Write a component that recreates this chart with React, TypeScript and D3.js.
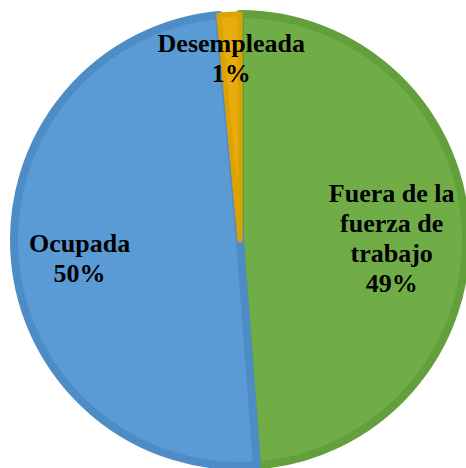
import * as d3 from "d3";

const categories = ["Fuera de la fuerza de trabajo", "Ocupada", "Desempleada"];
const values = [48.8, 49.7, 1.5];
const labelLines = [["Fuera de la", "fuerza de", "trabajo", "49%"], ["Ocupada", "50%"], ["Desempleada", "1%"]];
const fills = ["#70AD47", "#5B9BD5", "#E7AD0E"];
const borders = ["#62A03B", "#4E8CC6", "#DCA300"];

const W = 466;
const H = 468;
const cx = 240;
const cy = 240;
const R = 230;
// how far out each label sits (fraction of radius)
const labelR = [0.66, 0.7, 0.81];
const lineH = 30;

export default function App() {
  const pie = d3.pie<number>().sort(null).value((d) => d);
  const arcs = pie(values);
  const arc = d3.arc<d3.PieArcDatum<number>>().innerRadius(0).outerRadius(R - 4);

  return (
    <svg width={W} height={H} style={{ position: "absolute", left: 0, top: 0 }}>
      <rect width={W} height={H} fill="#fff" />
      <g transform={`translate(${cx},${cy})`}>
        {arcs.map((a, i) => (
          <path
            key={categories[i]}
            d={arc(a) ?? ""}
            fill={fills[i]}
            stroke={borders[i]}
            strokeWidth={i === 2 ? 5 : 8}
            strokeLinejoin="round"
          />
        ))}
        {arcs.map((a, i) => {
          const mid = (a.startAngle + a.endAngle) / 2;
          const r = R * labelR[i];
          const x = Math.sin(mid) * r;
          const y = -Math.cos(mid) * r;
          const lines = labelLines[i];
          const top = y - ((lines.length - 1) * lineH) / 2;
          return (
            <text
              key={"l" + i}
              textAnchor="middle"
              fontFamily="'Liberation Serif', 'Times New Roman', serif"
              fontWeight="bold"
              fontSize={26}
              fill="#000"
            >
              {lines.map((t, j) => (
                <tspan key={j} x={x} y={top + j * lineH + 13}>
                  {t}
                </tspan>
              ))}
            </text>
          );
        })}
      </g>
    </svg>
  );
}
